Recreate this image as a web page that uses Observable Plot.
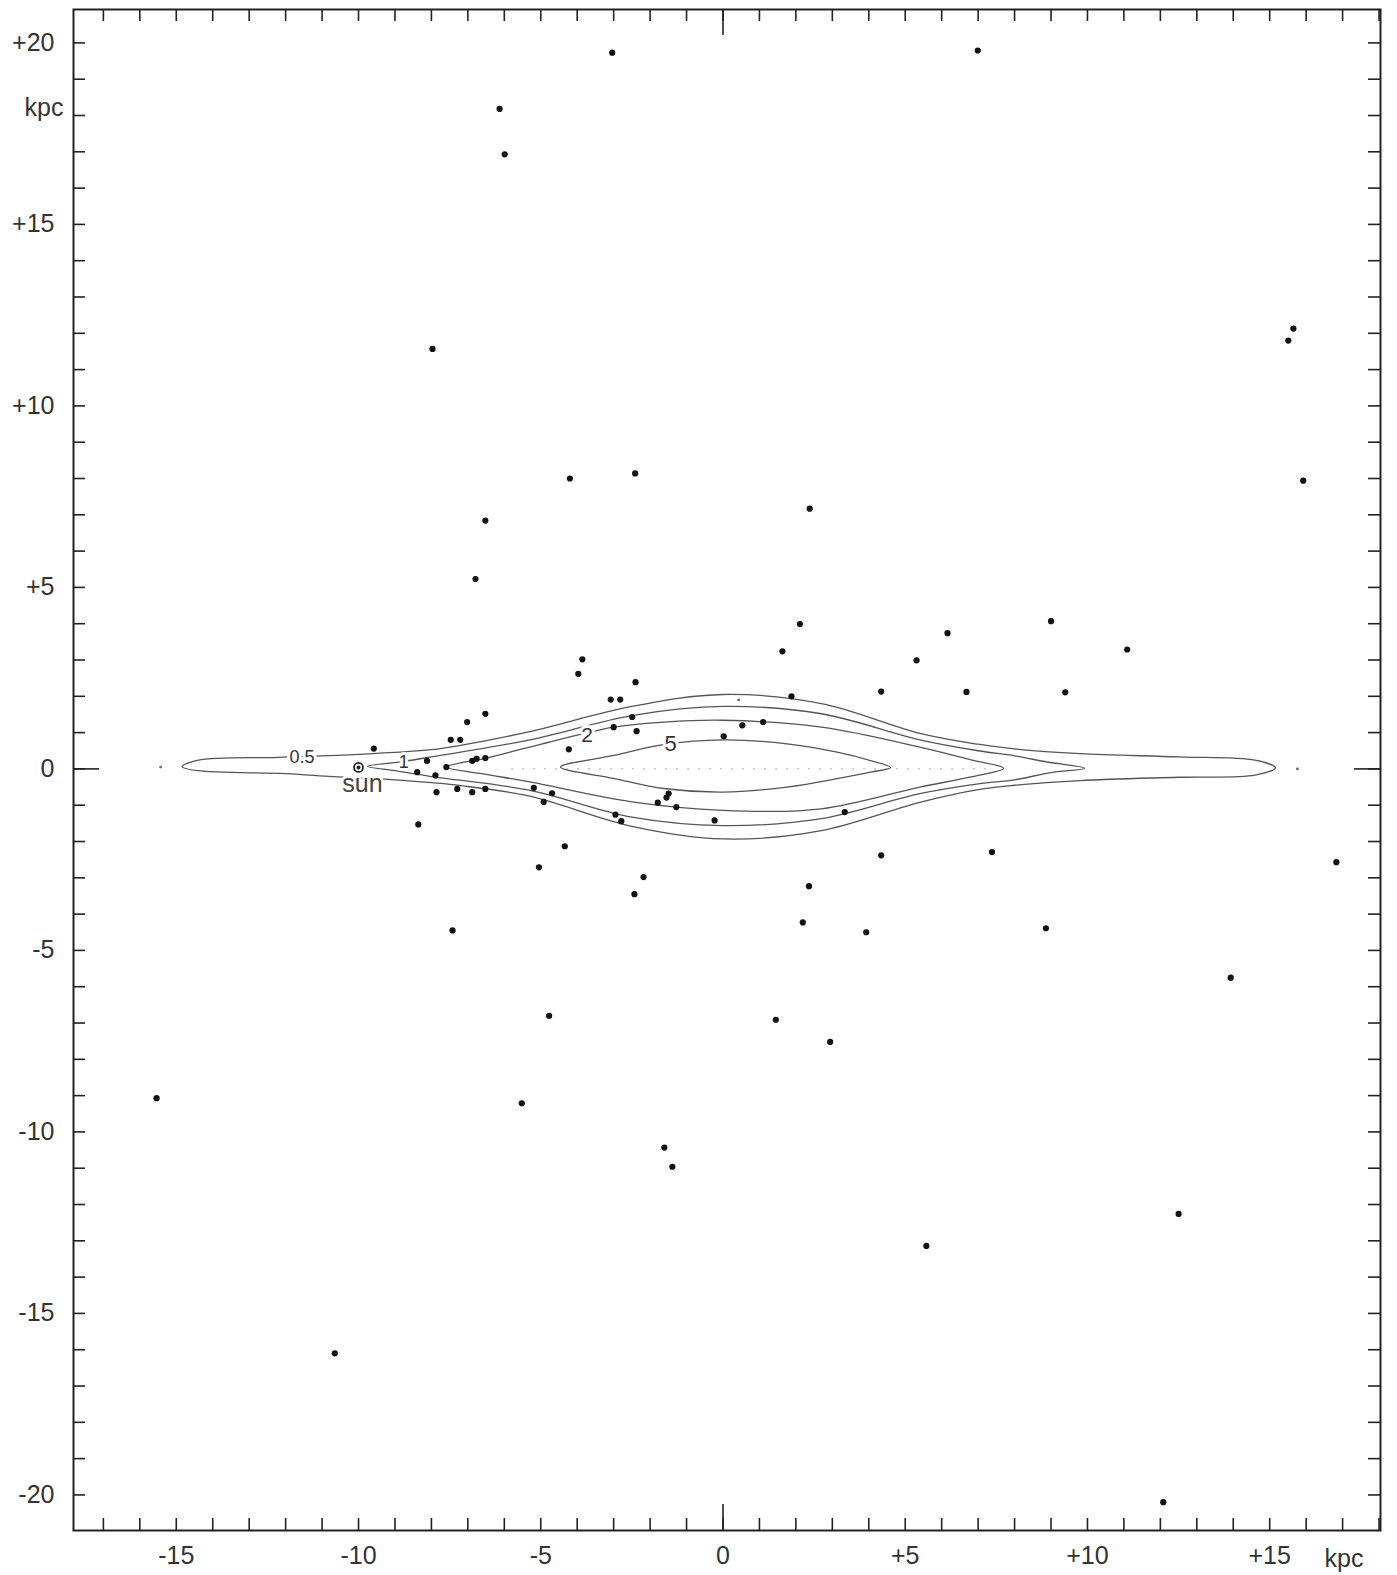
<!DOCTYPE html>
<html><head><meta charset="utf-8">
<script src="https://cdn.jsdelivr.net/npm/d3@7"></script>
<script src="https://cdn.jsdelivr.net/npm/@observablehq/plot@0.6"></script>
<style>body{margin:0;background:#fff} #chart svg{display:block}</style>
</head><body><div id="chart"></div>
<script>
// ---- axes ----
const xMinorTicks = d3.range(-17, 19);
const yMinorTicks = d3.range(-20, 21);
const xLabelValues = [-15, -10, -5, 0, 5, 10, 15];
const xLabelTexts  = ["-15", "-10", "-5", "0", "+5", "+10", "+15"];
const yLabelValues = [20, 15, 10, 5, 0, -5, -10, -15, -20];
const yLabelTexts  = ["+20", "+15", "+10", "+5", "0", "-5", "-10", "-15", "-20"];
const axisUnit = "kpc";

// ---- globular clusters (x, z in kpc) ----
const clusters = [
  [-3.04,19.73],[6.99,19.79],[-6.13,18.18],[-5.99,16.93],[-7.97,11.57],
  [15.65,12.13],[15.51,11.80],[15.92,7.94],[-4.20,8.00],[-2.41,8.14],
  [2.38,7.17],[-6.52,6.84],[-6.79,5.23],[2.11,3.99],[9.00,4.07],
  [6.16,3.74],[11.09,3.29],[1.63,3.24],[5.31,2.99],[-3.86,3.02],
  [-3.97,2.62],[-2.40,2.39],[6.68,2.12],[9.39,2.11],[4.34,2.13],
  [1.88,2.00],[-6.52,1.52],[-7.02,1.29],[-3.08,1.91],[-2.82,1.91],
  [-7.47,0.80],[-7.21,0.80],[-2.49,1.43],[-3.00,1.15],[-2.37,1.04],
  [0.53,1.20],[1.10,1.29],[0.02,0.90],[-4.23,0.54],[-9.58,0.56],
  [-8.12,0.22],[-8.39,-0.09],[-7.89,-0.18],[-7.59,0.05],[-6.88,0.22],
  [-6.76,0.28],[-6.52,0.30],[-7.86,-0.64],[-7.29,-0.55],[-6.88,-0.64],
  [-6.52,-0.55],[-5.19,-0.52],[-4.69,-0.67],[-4.92,-0.91],[-2.95,-1.26],
  [-2.79,-1.44],[-1.49,-0.68],[-1.55,-0.79],[-1.79,-0.93],[-1.28,-1.05],
  [-0.23,-1.42],[3.34,-1.19],[-8.36,-1.53],[-4.34,-2.13],[-5.05,-2.71],
  [4.34,-2.38],[7.38,-2.29],[16.83,-2.57],[-2.18,-2.98],[-2.43,-3.45],
  [2.36,-3.23],[2.19,-4.23],[3.93,-4.50],[8.86,-4.39],[-7.42,-4.45],
  [13.93,-5.75],[-4.77,-6.80],[1.45,-6.91],[2.94,-7.52],[-15.54,-9.07],
  [-5.52,-9.21],[-1.61,-10.43],[-1.39,-10.96],[12.50,-12.26],[5.58,-13.14],
  [-10.65,-16.10],[12.08,-20.20]
];
const faintPoints = [[0.43,1.90],[-15.43,0.05],[15.76,0.00]];

// ---- density contours (closed outlines, x, z in kpc) ----
const contour05 = [
  [-14.84,0.06],[-14.4,0.24],[-12.2,0.32],[-10.0,0.40],[-8.0,0.53],[-7.2,0.65],
  [-5.3,1.03],[-2.5,1.72],[0.0,2.05],[2.7,1.80],[5.4,0.98],[7.0,0.68],
  [8.0,0.55],[9.8,0.42],[12.5,0.33],[14.6,0.24],[15.16,0.03],
  [14.6,-0.17],[12.5,-0.23],[9.8,-0.32],[8.0,-0.45],[7.0,-0.57],[5.4,-0.92],
  [2.7,-1.70],[0.0,-1.93],[-2.5,-1.58],[-5.3,-0.75],[-7.2,-0.46],[-8.0,-0.38],
  [-9.0,-0.30],[-10.7,-0.21],[-12.0,-0.13],[-14.4,-0.05]
];
const contour1 = [
  [-9.75,0.07],[-8.8,0.20],[-8.0,0.33],[-5.3,0.80],[-2.5,1.47],[0.0,1.72],
  [2.7,1.52],[5.4,0.80],[7.0,0.50],[8.0,0.36],[8.9,0.19],[9.92,0.02],
  [9.0,-0.10],[8.0,-0.30],[7.0,-0.41],[5.4,-0.68],[2.7,-1.37],[0.0,-1.56],
  [-2.5,-1.33],[-5.3,-0.59],[-8.0,-0.21],[-9.0,-0.05]
];
const contour2 = [
  [-7.59,0.05],[-6.5,0.30],[-5.3,0.60],[-3.0,1.15],[-1.6,1.29],[0.0,1.34],
  [2.7,1.15],[5.4,0.60],[6.8,0.25],[7.70,0.02],
  [6.8,-0.22],[5.4,-0.50],[2.7,-1.10],[0.0,-1.14],[-2.5,-0.91],[-5.3,-0.36],[-6.5,-0.15]
];
const contour5 = [
  [-4.46,0.05],[-3.0,0.37],[-1.63,0.67],[0.0,0.80],[1.76,0.69],[3.13,0.46],[4.05,0.23],[4.60,0.04],
  [4.05,-0.09],[3.13,-0.27],[1.76,-0.50],[0.0,-0.64],[-1.63,-0.54],[-3.0,-0.26]
];
const contourLevels = ["0.5", "1", "2", "5"];
const contourLabels = [
  {x: -11.55, y: 0.33, text: "0.5", size: 18},
  {x: -8.76, y: 0.19, text: "1", size: 18},
  {x: -3.73, y: 0.92, text: "2", size: 21},
  {x: -1.44, y: 0.69, text: "5", size: 22}
];
const sun = {x: -10.0, y: 0.04, label: "sun", labelY: -0.41};
const planeDotted = [-5.8, 7.3];

// ---- build ----
const contourRows = [contour05, contour1, contour2, contour5].flatMap((c, i) =>
  c.map(([x, y]) => ({level: contourLevels[i], x, y})));
const clusterRows = clusters.map(([x, y]) => ({x, y}));
const faintRows = faintPoints.map(([x, y]) => ({x, y}));
const xFmt = d => xLabelTexts[xLabelValues.indexOf(d)];
const yFmt = d => yLabelTexts[yLabelValues.indexOf(d)];

const W = 1397, H = 1575, mL = 73, mR = 17, mT = 9, mB = 45;
const innerW = W - mL - mR, innerH = H - mT - mB;
const tickLen = 12, zeroTickLen = 26;
const ink = "#222";

const chart = Plot.plot({
  width: W, height: H,
  marginLeft: mL, marginRight: mR, marginTop: mT, marginBottom: mB,
  x: {domain: [-17.82, 18.04]},
  y: {domain: [-20.98, 20.92]},
  style: {fontFamily: "'Liberation Sans', 'DejaVu Sans', sans-serif", background: "#fff", color: "#333"},
  marks: [
    // galactic plane (faint dotted)
    Plot.ruleY([0], {x1: planeDotted[0], x2: planeDotted[1], stroke: "#bbb", strokeWidth: 1.2, strokeDasharray: "2,9"}),
    // contours
    Plot.line(contourRows, {x: "x", y: "y", z: "level", curve: "catmull-rom-closed", stroke: "#555", strokeWidth: 1.3}),
    // contour labels
    ...contourLabels.map(l => Plot.text([l], {x: "x", y: "y", text: "text", fontSize: l.size, fill: "#333",
      stroke: "white", strokeWidth: 6, paintOrder: "stroke"})),
    Plot.text([sun], {x: "x", y: "labelY", text: "label", fontSize: 25, fill: "#444", stroke: "white", strokeWidth: 5, paintOrder: "stroke", dx: 4}),
    // sun symbol
    Plot.dot([sun], {x: "x", y: "y", r: 4.5, stroke: ink, strokeWidth: 1.8, fill: "white"}),
    Plot.dot([sun], {x: "x", y: "y", r: 2, fill: ink}),
    // clusters
    Plot.dot(faintRows, {x: "x", y: "y", r: 1.4, fill: "#666"}),
    Plot.dot(clusterRows, {x: "x", y: "y", r: 3.1, fill: "#111"}),
    // frame and inward ticks
    Plot.frame({stroke: ink, strokeWidth: 2}),
    Plot.ruleX(xMinorTicks, {x: d => d, insetBottom: innerH - tickLen, stroke: ink, strokeWidth: 1.6}),
    Plot.ruleX(xMinorTicks, {x: d => d, insetTop: innerH - tickLen, stroke: ink, strokeWidth: 1.6}),
    Plot.ruleY(yMinorTicks, {y: d => d, insetRight: innerW - tickLen, stroke: ink, strokeWidth: 1.6}),
    Plot.ruleY(yMinorTicks, {y: d => d, insetLeft: innerW - tickLen, stroke: ink, strokeWidth: 1.6}),
    Plot.ruleX([0], {x: d => d, insetBottom: innerH - zeroTickLen, stroke: ink, strokeWidth: 1.6}),
    Plot.ruleX([0], {x: d => d, insetTop: innerH - zeroTickLen, stroke: ink, strokeWidth: 1.6}),
    Plot.ruleY([0], {y: d => d, insetRight: innerW - zeroTickLen, stroke: ink, strokeWidth: 1.6}),
    Plot.ruleY([0], {y: d => d, insetLeft: innerW - zeroTickLen, stroke: ink, strokeWidth: 1.6}),
    // tick labels
    Plot.axisX(xLabelValues, {anchor: "bottom", tickSize: 0, tickPadding: 16, tickFormat: xFmt, fontSize: 25, fill: "#333", label: null}),
    Plot.axisY(yLabelValues, {anchor: "left", tickSize: 0, tickPadding: 19, tickFormat: yFmt, fontSize: 25, fill: "#333", label: null}),
    Plot.text([axisUnit], {text: d => d, frameAnchor: "top-left", dx: -10, dy: 98, textAnchor: "end", lineAnchor: "middle", fontSize: 25, fill: "#333"}),
    Plot.text([axisUnit], {text: d => d, frameAnchor: "bottom-right", dx: -17, dy: 28, textAnchor: "end", lineAnchor: "middle", fontSize: 25, fill: "#333"})
  ]
});
document.getElementById("chart").appendChild(chart);
</script>
</body></html>
